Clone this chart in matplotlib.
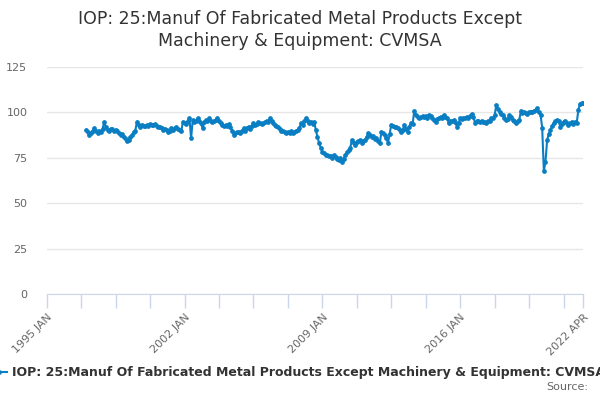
import matplotlib
matplotlib.use("Agg")
import matplotlib.pyplot as plt
import pandas as pd

title = "IOP: 25:Manuf Of Fabricated Metal Products Except\nMachinery & Equipment: CVMSA"
series_name = "IOP: 25:Manuf Of Fabricated Metal Products Except Machinery & Equipment: CVMSA"
start_month = "1997-01"

v1997 = [90.5, 89.0, 87.8, 88.5, 90.0, 91.2, 89.5, 88.5, 90.0, 89.3, 91.0, 94.8]
v1998 = [92.0, 90.2, 89.5, 91.0, 90.6, 89.8, 90.5, 89.5, 88.6, 87.6, 88.0, 86.5]
v1999 = [85.5, 84.4, 85.0, 86.6, 87.5, 89.4, 90.0, 94.9, 93.0, 92.0, 93.1, 92.5]
v2000 = [92.6, 93.0, 92.3, 93.5, 93.0, 92.8, 93.5, 92.4, 92.0, 91.8, 91.2, 90.5]
v2001 = [91.0, 90.2, 89.4, 90.0, 91.5, 90.5, 91.2, 92.0, 90.6, 90.2, 89.8, 94.9]
v2002 = [94.0, 93.5, 95.0, 96.7, 85.7, 95.8, 94.5, 95.5, 96.7, 95.0, 94.0, 91.2]
v2003 = [94.5, 95.8, 95.0, 96.7, 95.5, 94.8, 95.4, 96.0, 96.7, 95.5, 94.0, 93.1]
v2004 = [92.5, 93.1, 92.5, 93.5, 92.0, 90.0, 87.6, 88.5, 89.0, 89.4, 88.5, 90.0]
v2005 = [91.2, 90.0, 91.5, 92.2, 91.0, 92.5, 94.0, 93.0, 93.8, 94.9, 94.0, 93.5]
v2006 = [94.2, 94.9, 95.5, 94.5, 96.7, 95.0, 94.0, 93.1, 92.5, 91.8, 90.8, 90.0]
v2007 = [89.8, 89.4, 88.5, 89.0, 88.9, 89.5, 88.6, 89.2, 89.8, 90.2, 91.5, 94.0]
v2008 = [93.0, 95.0, 96.7, 95.0, 94.0, 94.5, 93.5, 94.9, 90.2, 86.5, 83.0, 80.5]
v2009 = [78.4, 77.5, 76.6, 76.5, 76.1, 75.8, 74.8, 76.6, 75.5, 74.5, 74.0, 74.8]
v2010 = [72.9, 74.5, 76.6, 78.0, 79.3, 80.5, 84.8, 83.0, 82.0, 83.5, 84.0, 84.8]
v2011 = [83.0, 84.0, 85.0, 86.5, 88.5, 87.5, 86.7, 87.0, 85.5, 86.0, 84.5, 83.0]
v2012 = [89.4, 88.5, 87.6, 86.0, 83.0, 88.0, 93.1, 92.5, 92.0, 92.2, 91.5, 90.5]
v2013 = [89.4, 90.5, 93.1, 91.0, 89.4, 92.0, 94.0, 93.5, 101.0, 98.5, 97.6, 97.0]
v2014 = [97.3, 98.0, 97.5, 98.0, 97.0, 98.5, 98.0, 97.0, 96.0, 94.9, 96.5, 97.0]
v2015 = [97.6, 97.0, 98.5, 97.5, 97.0, 94.0, 95.5, 95.0, 95.8, 94.5, 92.2, 94.0]
v2016 = [96.7, 96.5, 97.0, 96.8, 97.6, 97.0, 98.0, 99.1, 97.5, 94.4, 95.0, 95.5]
v2017 = [94.9, 95.5, 94.8, 94.5, 94.0, 95.0, 95.5, 96.7, 97.0, 98.5, 104.1, 102.0]
v2018 = [100.4, 99.0, 98.5, 97.0, 95.8, 96.5, 98.5, 97.5, 96.0, 95.0, 94.0, 95.0]
v2019 = [95.8, 101.0, 99.5, 100.0, 99.6, 99.0, 100.0, 100.4, 100.0, 101.0, 101.5, 102.3]
v2020 = [100.0, 98.5, 91.5, 67.7, 72.9, 84.8, 88.0, 90.2, 92.5, 94.0, 95.0, 95.8]
v2021 = [95.0, 92.2, 93.5, 94.9, 95.5, 94.0, 93.1, 94.0, 94.9, 93.5, 94.5, 94.0]
v2022 = [101.4, 104.8, 105.0, 105.0]

values = (v1997 + v1998 + v1999 + v2000 + v2001 + v2002 + v2003 + v2004 + v2005
          + v2006 + v2007 + v2008 + v2009 + v2010 + v2011 + v2012 + v2013 + v2014
          + v2015 + v2016 + v2017 + v2018 + v2019 + v2020 + v2021 + v2022)
dates = pd.date_range(start_month, periods=len(values), freq="MS")

y_ticks = [0, 25, 50, 75, 100, 125]
x_labels = {"1995-01-01": "1995 JAN", "2002-01-01": "2002 JAN", "2009-01-01": "2009 JAN",
            "2016-01-01": "2016 JAN", "2022-04-01": "2022 APR"}

fig = plt.figure(figsize=(6, 4), dpi=100)
ax = fig.add_axes([0.078, 0.265, 0.894, 0.5675])
color = "#0a7ec2"
ax.plot(dates, values, color=color, lw=1.5, marker="o", ms=2.4, label=series_name, zorder=3)

ax.set_ylim(0, 125)
ax.set_yticks(y_ticks)
xmin = pd.Timestamp("1995-01-01")
xmax = pd.Timestamp("2022-04-01")
ax.set_xlim(xmin, xmax)

tick_dates = list(pd.date_range(xmin, xmax, freq="21MS")) + [xmax]
ax.set_xticks(tick_dates)
labels = [x_labels.get(d.strftime("%Y-%m-%d"), "") for d in tick_dates]
ax.set_xticklabels(labels, rotation=45, ha="right", rotation_mode="anchor")

ax.grid(axis="y", color="#e6e6e6", lw=1)
ax.set_axisbelow(True)
for s in ["top", "right", "left"]:
    ax.spines[s].set_visible(False)
ax.spines["bottom"].set_color("#ccd6eb")
ax.tick_params(axis="x", colors="#ccd6eb", length=10, width=1, labelcolor="#666666", labelsize=8, pad=3)
ax.tick_params(axis="y", length=0, labelcolor="#666666", labelsize=8, pad=14)

fig.suptitle(title, fontsize=12.5, color="#333333", y=0.975, linespacing=1.3)

leg = fig.legend(loc="center", bbox_to_anchor=(0.497, 0.068), frameon=False,
                 prop={"size": 9, "weight": "bold"}, handlelength=1.3, handletextpad=0.4)
for t in leg.get_texts():
    t.set_color("#333333")

fig.text(0.98, 0.02, "Source:", ha="right", va="bottom", fontsize=8, color="#666666")

fig.savefig("out.png", dpi=100)
